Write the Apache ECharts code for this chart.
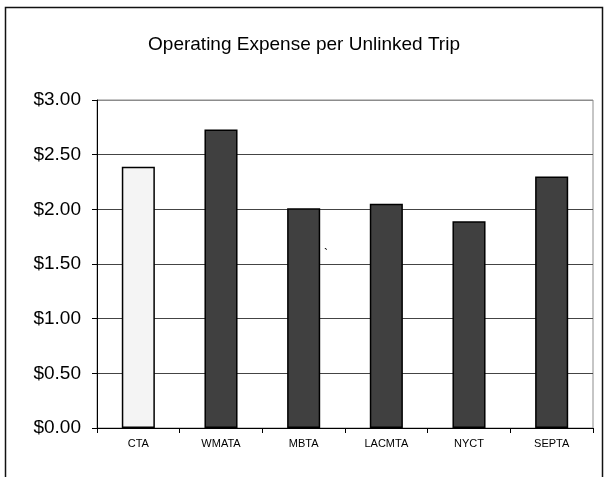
<!DOCTYPE html>
<html>
<head>
<meta charset="utf-8">
<script src="https://cdn.jsdelivr.net/npm/echarts@6/dist/echarts.min.js"></script>
<style>
  html, body { margin: 0; padding: 0; background: #fff; }
  #chart { width: 608px; height: 477px; }
</style>
</head>
<body>
<div id="chart"></div>
<script>
// Operating expense per unlinked trip, by transit agency (dollars)
const agencies = ['CTA', 'WMATA', 'MBTA', 'LACMTA', 'NYCT', 'SEPTA'];
const expensePerTrip = [2.39, 2.73, 2.01, 2.05, 1.89, 2.30];
const highlightAgency = 'CTA';

const yMin = 0, yMax = 3, yStep = 0.5;

const FONT = 'Liberation Sans, Arial, sans-serif';

const chart = echarts.init(document.getElementById('chart'), null, { renderer: 'canvas' });

const barData = agencies.map((name, i) => ({
  value: expensePerTrip[i],
  itemStyle: {
    color: name === highlightAgency ? '#f4f4f4' : '#404040'
  }
}));

chart.setOption({
  backgroundColor: '#ffffff',
  animation: false,
  title: {
    text: 'Operating Expense per Unlinked Trip',
    left: 'center',
    top: 30,
    textStyle: {
      fontFamily: FONT,
      fontSize: 19,
      fontWeight: 'normal',
      color: '#000'
    }
  },
  grid: {
    left: 97,
    top: 100,
    width: 496,
    height: 328,
    show: true,
    borderColor: '#8c8c8c',
    borderWidth: 1,
    backgroundColor: '#fff'
  },
  xAxis: {
    type: 'category',
    data: agencies,
    axisLine: { lineStyle: { color: '#000', width: 1 } },
    axisTick: { show: true, length: 5, inside: false, lineStyle: { color: '#000' } },
    axisLabel: {
      margin: 10,
      fontFamily: FONT,
      fontSize: 11,
      color: '#000'
    }
  },
  yAxis: {
    type: 'value',
    min: yMin,
    max: yMax,
    interval: yStep,
    axisLine: { show: true, lineStyle: { color: '#000', width: 1 } },
    axisTick: { show: true, length: 5, lineStyle: { color: '#000' } },
    axisLabel: {
      margin: 16,
      fontFamily: FONT,
      fontSize: 19,
      color: '#000',
      formatter: v => '$' + v.toFixed(2)
    },
    splitLine: {
      show: true,
      lineStyle: {
        color: ['#444', '#444', '#444', '#444', '#444', '#444', '#8c8c8c'],
        width: 1
      }
    }
  },
  series: [{
    type: 'bar',
    data: barData,
    barWidth: '40%',
    itemStyle: { borderColor: '#000', borderWidth: 1.5 }
  }],
  graphic: [
    {
      type: 'rect',
      shape: { x: 5.5, y: 7.5, width: 597, height: 500 },
      style: { fill: 'none', stroke: '#111', lineWidth: 1.5 },
      z: 100
    },
    {
      type: 'text',
      left: 324,
      top: 249,
      style: {
        text: '`',
        font: '12px Liberation Sans, Arial, sans-serif',
        fill: '#000'
      },
      z: 100
    }
  ]
});
</script>
</body>
</html>
